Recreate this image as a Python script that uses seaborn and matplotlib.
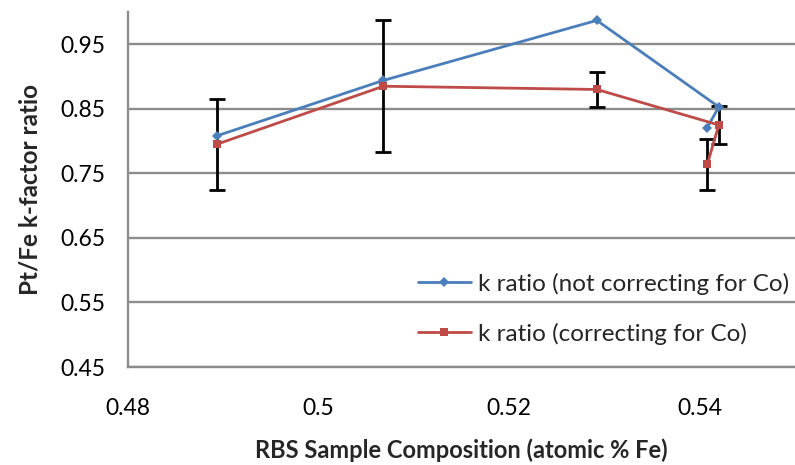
import matplotlib
matplotlib.use("Agg")
import matplotlib.pyplot as plt
import seaborn as sns
import pandas as pd

# Data
x_comp = [0.4893, 0.5068, 0.5292, 0.5420, 0.5408]
k_not_corr = [0.808, 0.894, 0.987, 0.853, 0.821]
k_corr = [0.795, 0.885, 0.880, 0.825, 0.764]
k_corr_err = [0.070, 0.102, 0.027, 0.030, 0.039]
label_not = "k ratio (not correcting for Co)"
label_corr = "k ratio (correcting for Co)"
x_ticks = [0.48, 0.50, 0.52, 0.54]
x_tick_labels = ["0.48", "0.5", "0.52", "0.54"]
y_ticks = [0.45, 0.55, 0.65, 0.75, 0.85, 0.95]
y_tick_labels = ["0.45", "0.55", "0.65", "0.75", "0.85", "0.95"]

sns.set_style("white")
plt.rcParams["font.family"] = ["Lato", "DejaVu Sans"]

BLUE = "#4A7EBB"
RED = "#BE4B48"
GRID = "#8C8C8C"

fig = plt.figure(figsize=(7.95, 4.65), dpi=100)
ax = fig.add_axes([128 / 795, 98 / 465, (795 - 128) / 795, (367 - 12) / 465])

df_not = pd.DataFrame({"x": x_comp, "y": k_not_corr})
df_corr = pd.DataFrame({"x": x_comp, "y": k_corr})

ax.errorbar(x_comp, k_corr, yerr=k_corr_err, fmt="none", ecolor="black",
            elinewidth=2.0, capsize=6, capthick=2.0, zorder=2)
sns.lineplot(data=df_not, x="x", y="y", sort=False, ax=ax, color=BLUE,
             linewidth=2.0, marker="D", markersize=5, markeredgewidth=0,
             label=label_not, zorder=3, estimator=None)
sns.lineplot(data=df_corr, x="x", y="y", sort=False, ax=ax, color=RED,
             linewidth=2.0, marker="s", markersize=6, markeredgewidth=0,
             label=label_corr, zorder=3, estimator=None)

ax.set_xlim(0.48, 0.55)
ax.set_ylim(0.45, 1.0)
ax.set_xticks(x_ticks)
ax.set_xticklabels(x_tick_labels)
ax.set_yticks(y_ticks)
ax.set_yticklabels(y_tick_labels)
ax.yaxis.grid(True, color=GRID, linewidth=1.7)
ax.xaxis.grid(False)
ax.set_axisbelow(True)

for side in ["top", "right"]:
    ax.spines[side].set_visible(False)
for side in ["left", "bottom"]:
    ax.spines[side].set_color(GRID)
    ax.spines[side].set_linewidth(1.7)

ax.tick_params(axis="both", which="major", direction="out", length=6,
               width=1.6, color=GRID, labelsize=16.5, labelcolor="black")
ax.tick_params(axis="y", pad=10)
ax.tick_params(axis="x", pad=16)

ax.set_xlabel("RBS Sample Composition (atomic % Fe)", fontsize=17,
              fontweight="bold", labelpad=14)
ax.set_ylabel("Pt/Fe k-factor ratio", fontsize=17.5, fontweight="bold",
              labelpad=14)

leg = ax.legend(loc="upper left", bbox_to_anchor=(408 / 795, 1 - 263 / 465),
                bbox_transform=fig.transFigure, frameon=False, fontsize=17.5,
                handlelength=2.2, handletextpad=0.3, labelspacing=1.15,
                borderaxespad=0)

fig.savefig("out.png", dpi=100)
